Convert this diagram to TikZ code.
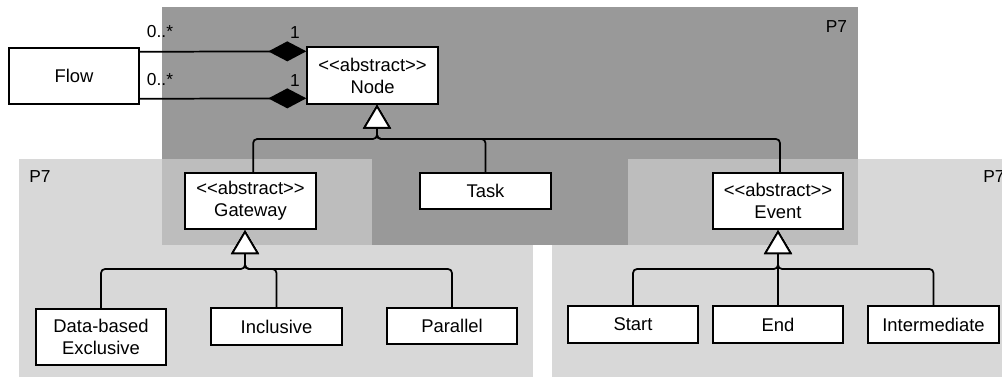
\documentclass[tikz,border=0pt]{standalone}
\usepackage{fontspec}
\setmainfont{Liberation Sans}
\usetikzlibrary{arrows.meta}
\definecolor{pkgdark}{HTML}{999999}
\definecolor{pkglight}{HTML}{D8D8D8}
\definecolor{pkgmid}{HTML}{BDBDBD}
\tikzstyle{umlbox}=[draw, fill=white, line width=1.3pt, minimum width=98pt, minimum height=27.5pt, align=center, inner sep=0pt, font=\fontsize{13.8}{16.5}\selectfont]
\tikzstyle{tallbox}=[umlbox, minimum height=42.5pt]
\tikzstyle{inherit}=[line width=1.3pt, rounded corners=3pt, -{Triangle[length=18pt, width=21pt, fill=white]}]
\tikzstyle{compose}=[line width=1.3pt, -{Diamond[length=28.5pt, width=15pt]}]
\tikzstyle{mult}=[font=\fontsize{13}{15}\selectfont, inner sep=0pt]
\newcommand{\abstr}[1]{<\kern0pt<abstract>\kern0pt>\\#1}

\begin{document}
\begin{tikzpicture}[x=0.75pt, y=-0.75pt]
	\useasboundingbox (0,0) rectangle (1002,377);
	\clip (0,0) rectangle (1002,377);
	\fill[pkglight] (19,159) rectangle (533,380);
	\fill[pkglight] (552,159) rectangle (1010,380);
	\fill[pkgdark] (162,7) rectangle (858,245);
	\fill[pkgmid] (162,159) rectangle (372,245);
	\fill[pkgmid] (628,159) rectangle (858,245);
	\node(ptop)[mult] at (836.5,27) {P7};
	\node(pleft)[mult] at (40,177) {P7};
	\node(pright)[mult, anchor=west] at (983,177) {P7};

	\node(flow)[tallbox] at (74,76) {Flow};
	\node(node)[tallbox] at (372.5,75.5) {\abstr{Node}};
	\node(gateway)[tallbox] at (250.5,201) {\abstr{Gateway}};
	\node(task)[umlbox] at (485.5,191) {Task};
	\node(event)[tallbox] at (778,201) {\abstr{Event}};
	\node(data)[tallbox] at (101,337) {Data-based\\Exclusive};
	\node(inclusive)[umlbox] at (276.5,326.5) {Inclusive};
	\node(parallel)[umlbox] at (452,326) {Parallel};
	\node(start)[umlbox] at (633,324.5) {Start};
	\node(end)[umlbox] at (778,324.5) {End};
	\node(intermediate)[umlbox] at (933.5,324.5) {Intermediate};

	\draw[compose] ([yshift=-3.75pt]flow.north east) -- ([yshift=-3.75pt]node.north west);
	\draw[compose] ([yshift=-39pt]flow.north east) -- ([yshift=-39pt]node.north west);
	\node(m1)[mult] at (160,32) {0..*};
	\node(m2)[mult] at (160,80) {0..*};
	\node(o1)[mult] at (295,33) {1};
	\node(o2)[mult] at (295,81) {1};

	\coordinate(njoin) at (377,139);
	\coordinate(gjoin) at (245,269);
	\coordinate(ejoin) at (778,269);
	\draw[inherit] ([xshift=2pt]gateway.north) |- (njoin) -- (njoin |- node.south);
	\draw[inherit] (task.north) |- (njoin) -- (njoin |- node.south);
	\draw[inherit] ([xshift=1.5pt]event.north) |- (njoin) -- (njoin |- node.south);
	\draw[inherit] (data.north) |- (gjoin) -- (gjoin |- gateway.south);
	\draw[inherit] (inclusive.north) |- (gjoin) -- (gjoin |- gateway.south);
	\draw[inherit] (parallel.north) |- (gjoin) -- (gjoin |- gateway.south);
	\draw[inherit] (start.north) |- (ejoin) -- (ejoin |- event.south);
	\draw[inherit] (end.north) -- (event.south);
	\draw[inherit] (intermediate.north) |- (ejoin) -- (ejoin |- event.south);
\end{tikzpicture}
\end{document}
